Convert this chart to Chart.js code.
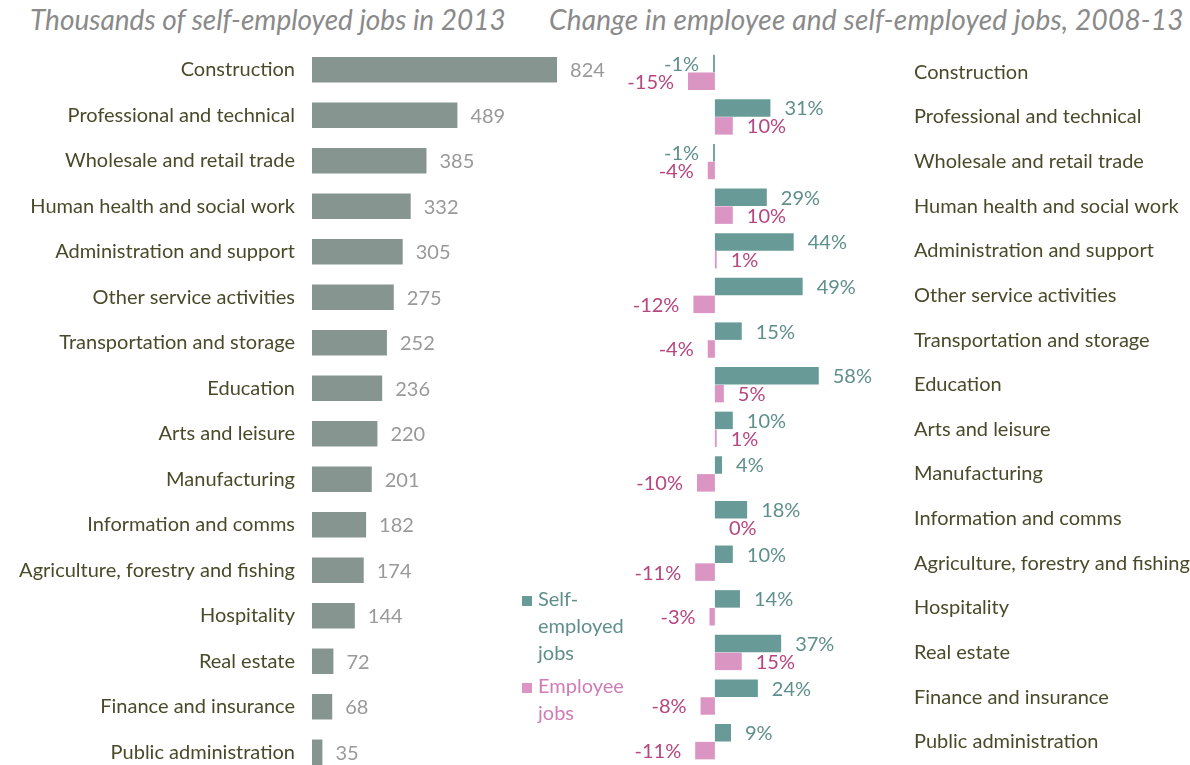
<!DOCTYPE html>
<html>
<head>
<meta charset="utf-8">
<script src="https://cdn.jsdelivr.net/npm/chart.js@4"></script>
<style>
  html, body { margin: 0; padding: 0; background: #fff; overflow: hidden; }
  body { width: 1190px; height: 765px; position: relative; font-family: Lato, sans-serif; }
  .title { position: absolute; top: 2px; font-style: italic; font-size: 28px; color: #8a8a8a; white-space: nowrap; }
  canvas { position: absolute; top: 0; }
  .legend { position: absolute; left: 522px; font-size: 20px; line-height: 27px; }
  .legend span.box { display: inline-block; width: 10px; height: 10px; margin-right: 6px; }
</style>
</head>
<body>
<div class="title" style="left:30px">Thousands of self-employed jobs in 2013</div>
<div class="title" style="left:549px;letter-spacing:0.2px">Change in employee and self-employed jobs, 2008-13</div>
<canvas id="leftChart" width="640" height="780" style="left:0"></canvas>
<canvas id="rightChart" width="690" height="765" style="left:500px"></canvas>
<div class="legend" style="top:585px;color:#5f8f8c"><span class="box" style="background:#689b98"></span>Self-<br><span style="margin-left:16px">employed</span><br><span style="margin-left:16px">jobs</span></div>
<div class="legend" style="top:672px;color:#d07cb6"><span class="box" style="background:#da95c3"></span>Employee<br><span style="margin-left:16px">jobs</span></div>
<script>
const categories = [
  'Construction', 'Professional and technical', 'Wholesale and retail trade',
  'Human health and social work', 'Administration and support', 'Other service activities',
  'Transportation and storage', 'Education', 'Arts and leisure', 'Manufacturing',
  'Information and comms', 'Agriculture, forestry and fishing', 'Hospitality',
  'Real estate', 'Finance and insurance', 'Public administration'
];
const selfEmployed2013 = [824, 489, 385, 332, 305, 275, 252, 236, 220, 201, 182, 174, 144, 72, 68, 35];
const selfEmployedChange = [-1, 31, -1, 29, 44, 49, 15, 58, 10, 4, 18, 10, 14, 37, 24, 9];
const employeeChange = [-15, 10, -4, 10, 1, -12, -4, 5, 1, -10, 0, -11, -3, 15, -8, -11];

const labelColor = '#4a4a2a';

// draws value labels next to the bar ends
const valueLabels = {
  id: 'valueLabels',
  afterDatasetsDraw(chart, args, opts) {
    const ctx = chart.ctx;
    ctx.save();
    ctx.font = '20px Lato, sans-serif';
    ctx.textBaseline = 'middle';
    chart.data.datasets.forEach((ds, i) => {
      const meta = chart.getDatasetMeta(i);
      meta.data.forEach((bar, j) => {
        const v = ds.data[j];
        ctx.fillStyle = opts.colors[i];
        const txt = v + (opts.suffix || '');
        if (v < 0) {
          ctx.textAlign = 'right';
          ctx.fillText(txt, bar.x - opts.gap, bar.y + 1);
        } else {
          ctx.textAlign = 'left';
          ctx.fillText(txt, bar.x + opts.gap, bar.y + 1);
        }
      });
    });
    ctx.restore();
  }
};

new Chart(document.getElementById('leftChart'), {
  type: 'bar',
  data: {
    labels: categories,
    datasets: [{
      data: selfEmployed2013,
      backgroundColor: '#879591',
      borderWidth: 0,
      barPercentage: 1,
      categoryPercentage: 0.56
    }]
  },
  options: {
    indexAxis: 'y',
    responsive: false,
    animation: false,
    layout: { padding: { top: 47, bottom: 5, left: 0, right: 0 } },
    plugins: {
      legend: { display: false },
      tooltip: { enabled: false },
      valueLabels: { colors: ['#999999'], gap: 13 }
    },
    scales: {
      x: { display: false, min: 0, max: 1103 },
      y: {
        grid: { display: false, drawTicks: false },
        border: { display: false },
        ticks: { color: labelColor, font: { family: 'Lato', size: 20 }, padding: 17 },
        afterFit(scale) { scale.width = 312; scale.paddingTop = 0; scale.paddingBottom = 0; }
      }
    }
  },
  plugins: [valueLabels]
});

new Chart(document.getElementById('rightChart'), {
  type: 'bar',
  data: {
    labels: categories,
    datasets: [{
      label: 'Self-employed jobs',
      data: selfEmployedChange,
      backgroundColor: '#689b98',
      borderWidth: 0,
      barPercentage: 0.98,
      categoryPercentage: 0.8
    }, {
      label: 'Employee jobs',
      data: employeeChange,
      backgroundColor: '#da95c3',
      borderWidth: 0,
      barPercentage: 0.98,
      categoryPercentage: 0.8
    }]
  },
  options: {
    indexAxis: 'y',
    responsive: false,
    animation: false,
    layout: { padding: { top: 50, bottom: 1, left: 0, right: 0 } },
    plugins: {
      legend: { display: false },
      tooltip: { enabled: false },
      valueLabels: { colors: ['#5f8f8c', '#b5467f'], gap: 14, suffix: '%' }
    },
    scales: {
      x: { display: false, min: -120, max: 105.6 },
      y: {
        position: 'right',
        grid: { display: false, drawTicks: false },
        border: { display: false },
        ticks: { color: labelColor, font: { family: 'Lato', size: 20 }, padding: 10 },
        afterFit(scale) { scale.width = 286; scale.paddingTop = 0; scale.paddingBottom = 0; }
      }
    }
  },
  plugins: [valueLabels]
});
</script>
</body>
</html>
